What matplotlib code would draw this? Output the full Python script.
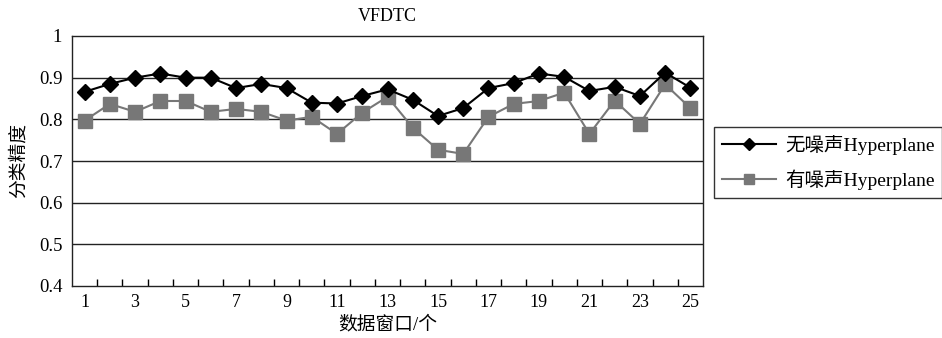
import matplotlib.pyplot as plt
import numpy as np

plt.rcParams['font.family'] = ['Liberation Serif', 'Noto Sans CJK SC']

# data
windows = np.arange(1, 26)
no_noise = [0.866, 0.885, 0.90, 0.91, 0.90, 0.90, 0.875, 0.885, 0.875, 0.84,
            0.838, 0.856, 0.872, 0.847, 0.808, 0.827, 0.875, 0.887, 0.91, 0.902,
            0.868, 0.878, 0.856, 0.912, 0.876]
with_noise = [0.797, 0.837, 0.818, 0.844, 0.844, 0.818, 0.825, 0.818, 0.797, 0.806,
              0.765, 0.816, 0.854, 0.78, 0.727, 0.717, 0.806, 0.837, 0.844, 0.864,
              0.765, 0.845, 0.789, 0.884, 0.827]
label_a = '无噪声Hyperplane'
label_b = '有噪声Hyperplane'

fig = plt.figure(figsize=(9.42, 3.38), dpi=100)
ax = fig.add_axes([72/942, 1-286/338, 631/942, 250/338])

for y in [0.5, 0.6, 0.7, 0.8, 0.9]:
    ax.axhline(y, color='#222222', lw=1.0, zorder=1)

ax.plot(windows, no_noise, color='black', lw=1.5, marker='D', ms=8.5,
        label=label_a, zorder=4)
ax.plot(windows, with_noise, color='#777777', lw=1.5, marker='s', ms=10,
        label=label_b, zorder=3)

ax.set_xlim(0.5, 25.5)
ax.set_ylim(0.4, 1.0)
ax.set_yticks([0.4, 0.5, 0.6, 0.7, 0.8, 0.9, 1.0])
ax.set_yticklabels(['0.4', '0.5', '0.6', '0.7', '0.8', '0.9', '1'])
ax.set_xticks(np.arange(1, 26, 2))
ax.set_xticks(np.arange(1.5, 25, 1), minor=True)
ax.tick_params(axis='x', which='major', length=0, labelsize=13, pad=6)
ax.tick_params(axis='x', which='minor', direction='in', length=5, width=1)
ax.tick_params(axis='y', length=0, labelsize=13.5, pad=7)
for s in ax.spines.values():
    s.set_color('#222222')
    s.set_linewidth(1.0)

ax.set_title('VFDTC', fontsize=13, pad=11)
ax.set_xlabel('数据窗口/个', fontsize=13.5, labelpad=3)
ax.set_ylabel('分类精度', fontsize=13.5, labelpad=8)

leg = fig.legend(loc='upper left', bbox_to_anchor=(714/942, 1-127/338),
                 fontsize=14, frameon=True, fancybox=False, edgecolor='black',
                 handlelength=2.8, borderpad=0.4, labelspacing=0.75,
                 handletextpad=0.45, borderaxespad=0, markerscale=0.7)
leg.get_frame().set_linewidth(1.0)

fig.savefig('out.png', dpi=100)
